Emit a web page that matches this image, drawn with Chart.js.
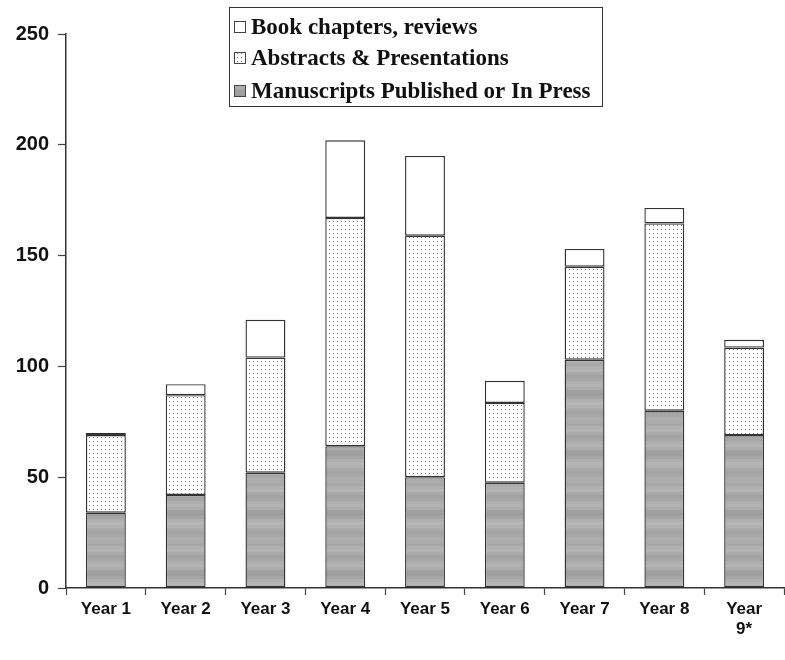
<!DOCTYPE html>
<html>
<head>
<meta charset="utf-8">
<script src="https://cdn.jsdelivr.net/npm/chart.js@4"></script>
<style>
  html, body { margin: 0; padding: 0; background: #fff; }
  #wrap { width: 785px; height: 660px; }
</style>
</head>
<body>
<div id="wrap"><canvas id="c" width="785" height="660"></canvas></div>
<script>
// Output per year, stacked by type
const years = ['Year 1', 'Year 2', 'Year 3', 'Year 4', 'Year 5', 'Year 6', 'Year 7', 'Year 8', ['Year', '9*']];
const manuscripts = [34, 42, 52, 64, 50, 47.5, 103, 80, 69];
const abstracts = [35, 45, 52, 103, 109, 36, 42, 84.5, 39.5];
const bookChapters = [1, 5, 17, 35, 36, 10, 8, 7, 3.5];
const yTicks = [0, 50, 100, 150, 200, 250];

const seriesNames = ['Manuscripts Published or In Press', 'Abstracts & Presentations', 'Book chapters, reviews'];

// Stippled fill for abstracts
function dotPattern() {
  const t = document.createElement('canvas');
  t.width = 4; t.height = 4;
  const g = t.getContext('2d');
  g.fillStyle = '#ffffff';
  g.fillRect(0, 0, 4, 4);
  g.fillStyle = '#7a7a7a';
  g.fillRect(1, 1, 1, 1);
  return g.createPattern(t, 'repeat');
}

// Mottled grey fill for manuscripts (fixed horizontal banding)
function greyPattern() {
  const bands = [172, 168, 176, 180, 170, 162, 166, 174, 178, 171, 160, 158, 165, 175, 182, 177, 169, 163, 167, 173];
  const t = document.createElement('canvas');
  t.width = 6; t.height = bands.length * 3;
  const g = t.getContext('2d');
  bands.forEach((v, i) => {
    g.fillStyle = 'rgb(' + v + ',' + v + ',' + v + ')';
    g.fillRect(0, i * 3, 6, 3);
  });
  return g.createPattern(t, 'repeat');
}

const ctx = document.getElementById('c').getContext('2d');
const fills = [greyPattern(), dotPattern(), '#ffffff'];

// Boxed legend in the top margin, listed top-down from the top of the stack
const legendBox = {
  id: 'legendBox',
  afterDraw(chart) {
    const c = chart.ctx;
    c.save();
    c.fillStyle = '#ffffff';
    c.fillRect(229, 7, 373, 99);
    c.strokeStyle = '#333';
    c.lineWidth = 1;
    c.strokeRect(229.5, 7.5, 373, 99);
    const rows = [2, 1, 0];
    const ys = [27, 58, 91];
    c.font = 'bold 23px "Liberation Serif", "Times New Roman", serif';
    c.textBaseline = 'middle';
    rows.forEach((di, i) => {
      const y = ys[i];
      c.fillStyle = fills[di];
      c.fillRect(234, y - 6, 12, 12);
      c.strokeStyle = '#444';
      c.lineWidth = 1;
      c.strokeRect(234.5, y - 5.5, 11, 11);
      c.fillStyle = '#111';
      c.fillText(chart.data.datasets[di].label, 251, y + 1);
    });
    c.restore();
  }
};

new Chart(ctx, {
  type: 'bar',
  data: {
    labels: years,
    datasets: [
      { label: seriesNames[0], data: manuscripts, backgroundColor: fills[0] },
      { label: seriesNames[1], data: abstracts, backgroundColor: fills[1] },
      { label: seriesNames[2], data: bookChapters, backgroundColor: fills[2] }
    ].map(d => Object.assign(d, {
      borderColor: '#333333',
      borderWidth: 1.4,
      borderSkipped: false,
      barPercentage: 0.5,
      categoryPercentage: 1.0
    }))
  },
  options: {
    responsive: false,
    animation: false,
    layout: { padding: { top: 34, right: 1, left: 0, bottom: 0 } },
    plugins: {
      legend: { display: false },
      tooltip: { enabled: false }
    },
    scales: {
      x: {
        stacked: true,
        grid: { offset: true, drawOnChartArea: false, drawTicks: true, tickLength: 7, color: '#444', tickWidth: 1.2 },
        border: { color: '#333', width: 1.5 },
        ticks: {
          color: '#111',
          padding: 4,
          maxRotation: 0,
          autoSkip: false,
          font: { family: '"Liberation Sans", Arial, sans-serif', weight: 'bold', size: 17 }
        },
        afterFit(scale) { scale.height = 72; }
      },
      y: {
        stacked: true,
        min: 0,
        max: 250,
        afterBuildTicks(scale) { scale.ticks = yTicks.map(v => ({ value: v })); },
        grid: { drawOnChartArea: false, drawTicks: true, tickLength: 8, color: '#444', tickWidth: 1.2 },
        border: { color: '#333', width: 1.5 },
        ticks: {
          color: '#111',
          padding: 9,
          font: { family: '"Liberation Sans", Arial, sans-serif', weight: 'bold', size: 20 }
        },
        afterFit(scale) { scale.width = 66; }
      }
    }
  },
  plugins: [legendBox]
});
</script>
</body>
</html>
